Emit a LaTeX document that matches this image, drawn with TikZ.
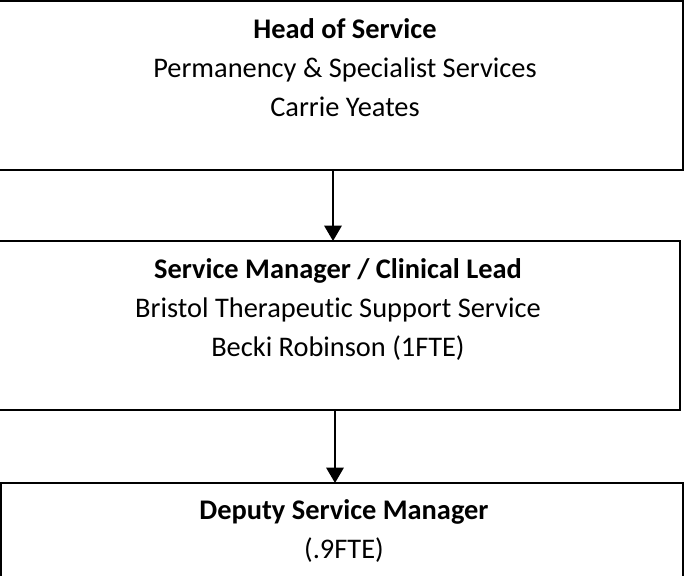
\documentclass[tikz,border=0pt]{standalone}
\usepackage{fontspec}
\setmainfont[Ligatures=NoCommon]{Carlito}
\usetikzlibrary{arrows.meta}
\begin{document}
\begin{tikzpicture}[x=0.75pt,y=-0.75pt,
  boxline/.style={draw=black,line width=1.5pt},
  label/.style={font=\fontsize{21.3}{29.3}\selectfont,align=center,inner sep=0pt},
  conn/.style={line width=1.5pt,-{Triangle[width=13pt,length=11.5pt]}}]
\useasboundingbox (0,0) rectangle (685,575);
\coordinate (b1nw) at (-3,1);
\coordinate (b1se) at (683,170);
\coordinate (b2nw) at (-3,241);
\coordinate (b2se) at (680,410);
\coordinate (b3nw) at (1,483);
\coordinate (b3se) at (683,590);
\draw[boxline] (b1nw) rectangle (b1se);
\draw[boxline] (b2nw) rectangle (b2se);
\draw[boxline] (b3nw) rectangle (b3se);
\node[label,anchor=north] (t1) at (345,18) {\textbf{Head of Service}\\Permanency \& Specialist Services\\Carrie Yeates};
\node[label,anchor=north] (t2) at (338,258) {\textbf{Service Manager / Clinical Lead}\\Bristol Therapeutic Support Service\\Becki Robinson (1FTE)};
\node[label,anchor=north] (t3) at (344,499) {\textbf{Deputy Service Manager}\\(.9FTE)};
\coordinate (a1s) at (333,170);
\coordinate (a1e) at (333,241);
\coordinate (a2s) at (335,410);
\coordinate (a2e) at (335,483);
\draw[conn] (a1s) -- (a1e);
\draw[conn] (a2s) -- (a2e);
\end{tikzpicture}
\end{document}
